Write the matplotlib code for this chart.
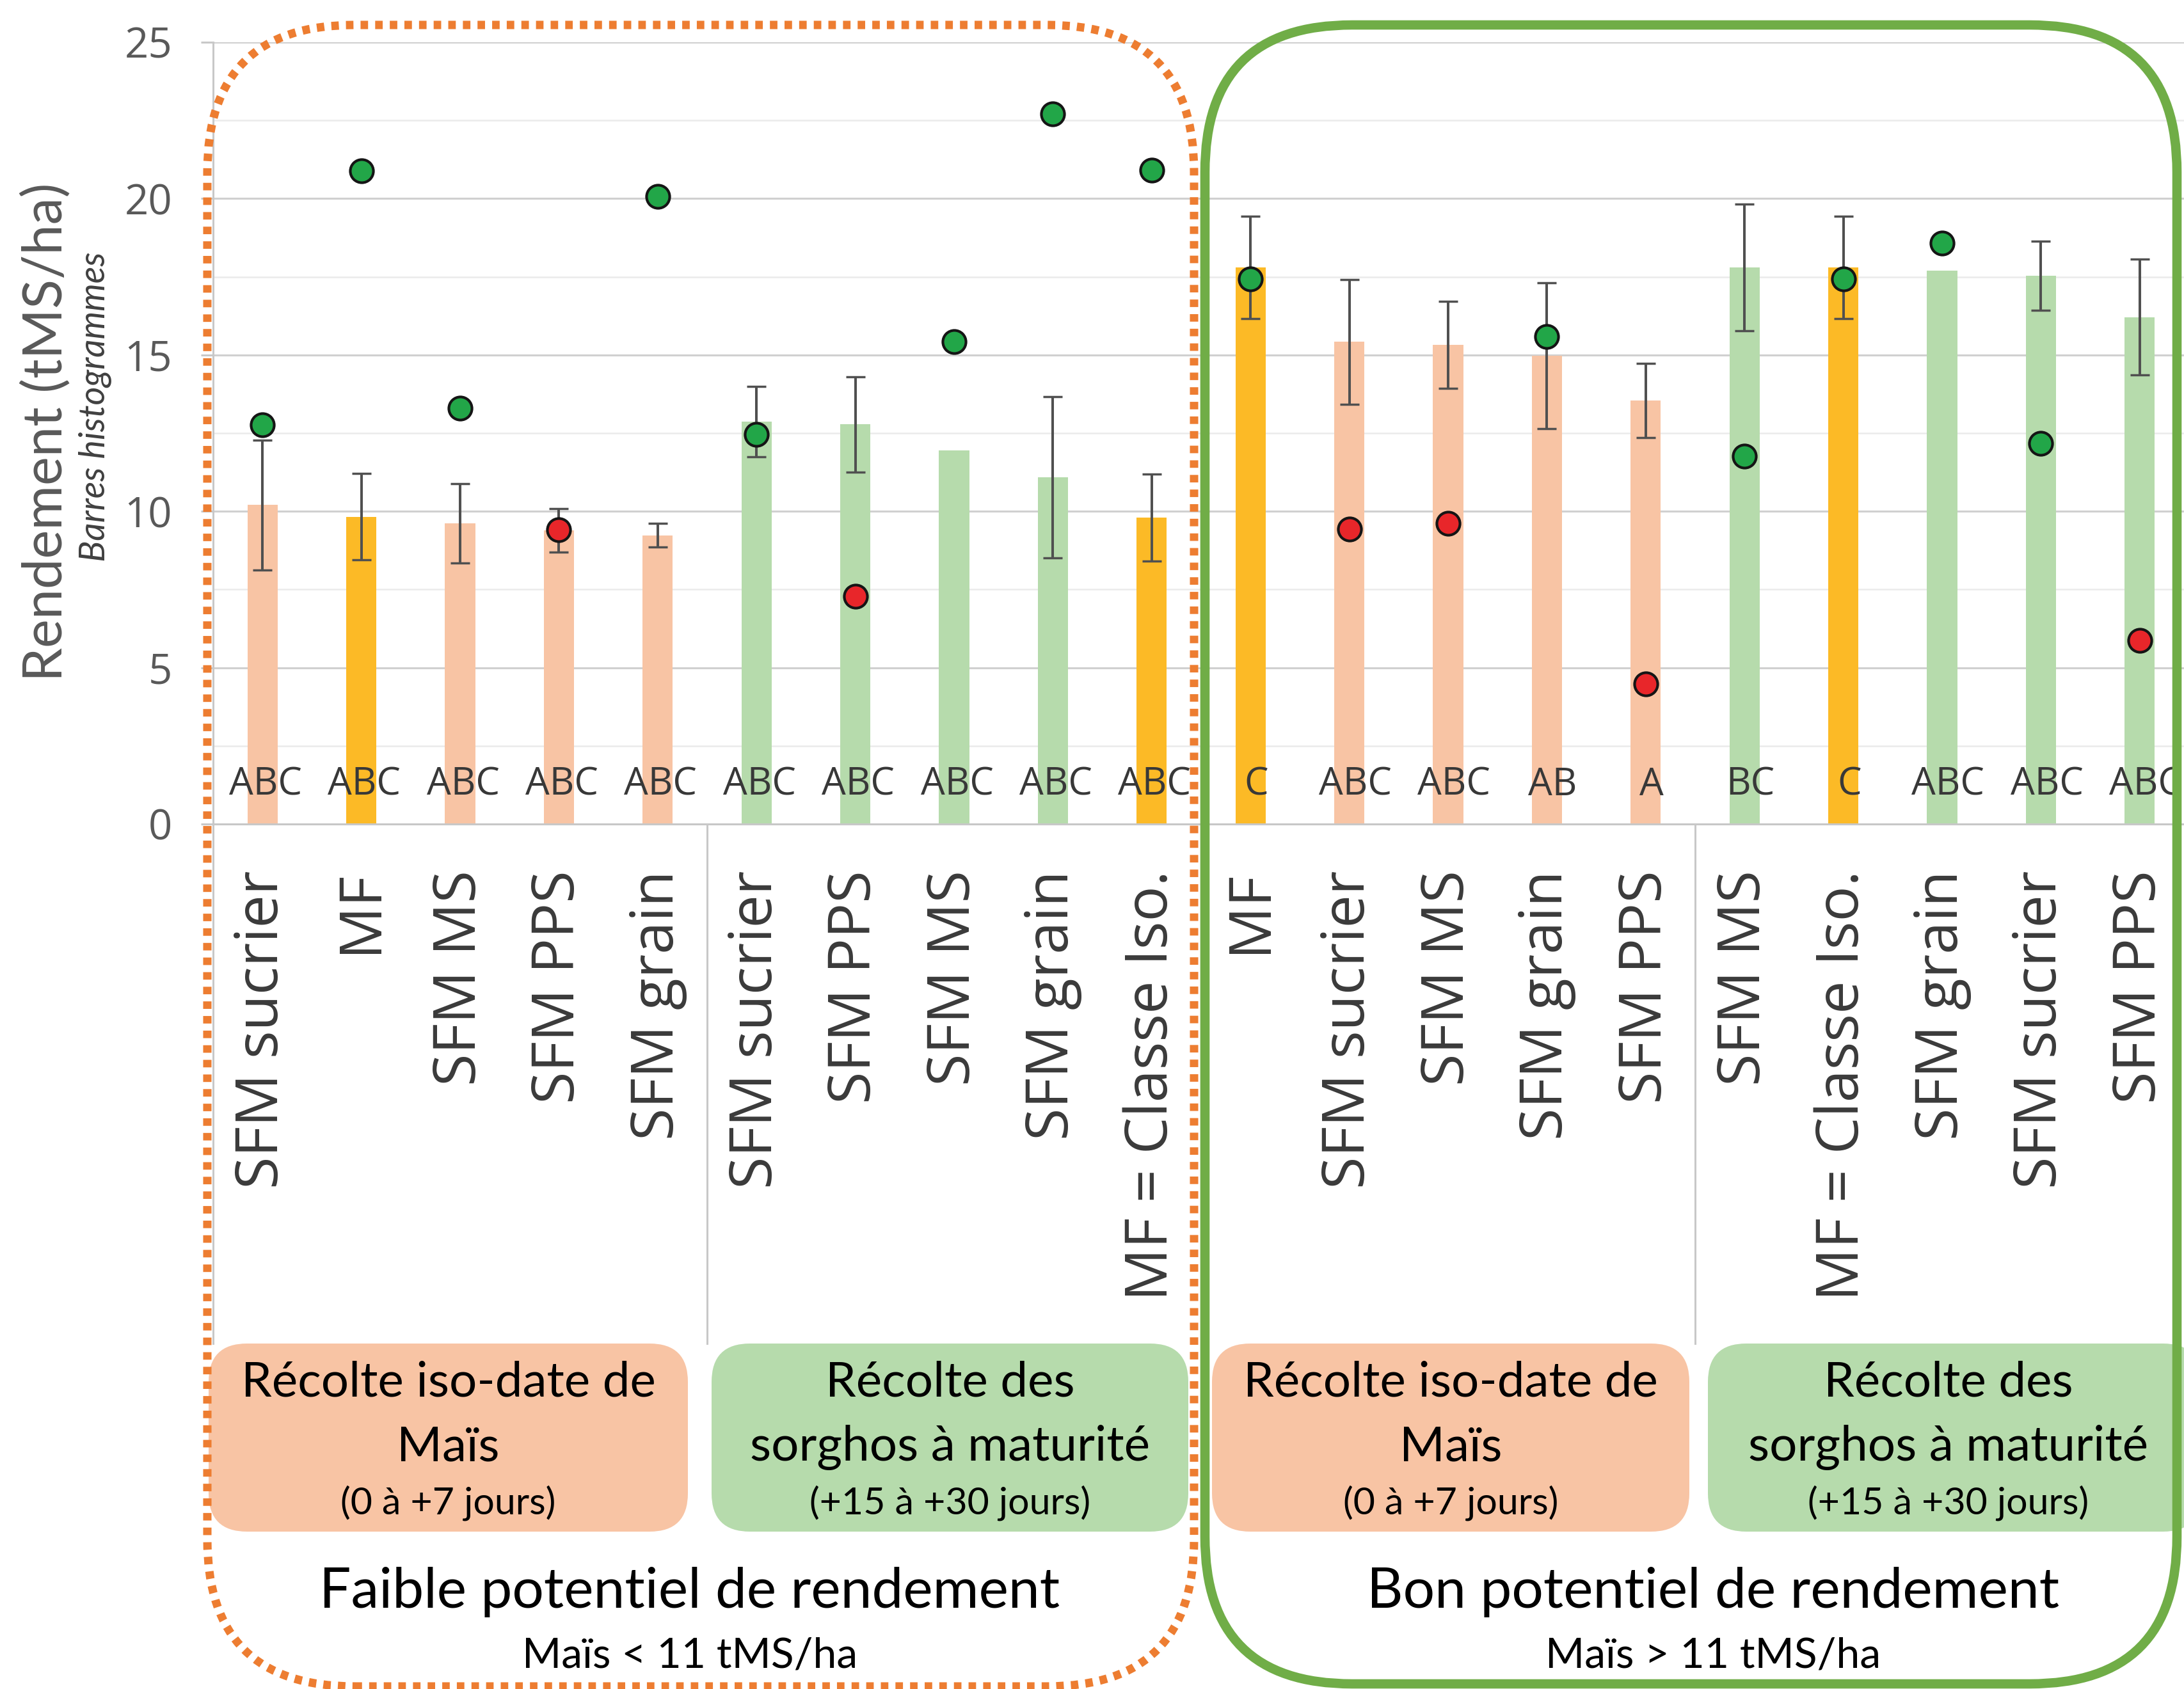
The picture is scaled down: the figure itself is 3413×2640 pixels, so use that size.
import numpy as np
import matplotlib.pyplot as plt
from matplotlib.patches import FancyBboxPatch
from matplotlib.lines import Line2D
from matplotlib.transforms import blended_transform_factory

# Données : rendement moyen (barres), écart-type, valeur individuelle (points)
categories = ["SFM sucrier", "MF", "SFM MS", "SFM PPS", "SFM grain",
              "SFM sucrier", "SFM PPS", "SFM MS", "SFM grain", "MF = Classe Iso.",
              "MF", "SFM sucrier", "SFM MS", "SFM grain", "SFM PPS",
              "SFM MS", "MF = Classe Iso.", "SFM grain", "SFM sucrier", "SFM PPS"]
# iso = récolte iso-date du maïs, mat = sorghos à maturité, ref = maïs témoin
type_recolte = ["iso", "ref", "iso", "iso", "iso",
                "mat", "mat", "mat", "mat", "ref",
                "ref", "iso", "iso", "iso", "iso",
                "mat", "ref", "mat", "mat", "mat"]
rendement = [10.2, 9.83, 9.62, 9.39, 9.23, 12.87, 12.78, 11.95, 11.09, 9.8,
             17.8, 15.42, 15.33, 14.98, 13.54, 17.8, 17.8, 17.7, 17.53, 16.21]
ecart_type = [2.08, 1.38, 1.27, 0.7, 0.38, 1.12, 1.53, np.nan, 2.58, 1.39,
              1.63, 2.0, 1.39, 2.33, 1.19, 2.02, 1.63, np.nan, 1.1, 1.85]
points = [12.76, 20.89, 13.29, 9.41, 20.06, 12.45, 7.28, 15.42, 22.71, 20.9,
          17.44, 9.44, 9.62, 15.59, 4.48, 11.76, 17.44, 18.58, 12.17, 5.87]
points_ok = [1, 1, 1, 0, 1, 1, 0, 1, 1, 1,
             1, 0, 0, 1, 0, 1, 1, 1, 1, 0]
lettres = ["ABC", "ABC", "ABC", "ABC", "ABC", "ABC", "ABC", "ABC", "ABC", "ABC",
           "C", "ABC", "ABC", "AB", "A", "BC", "C", "ABC", "ABC", "ABC"]

groupes = [("Récolte iso-date de", "Maïs", "(0 à +7 jours)"),
           ("Récolte des", "sorghos à maturité", "(+15 à +30 jours)")] * 2
potentiels = [("Faible potentiel de rendement", "Maïs < 11 tMS/ha"),
              ("Bon potentiel de rendement", "Maïs > 11 tMS/ha")]

W, H, DPI = 3413, 2640, 100
couleurs = {"iso": "#F8C4A4", "mat": "#B6DBAC", "ref": "#FCBA26"}
GRIS = "#C8C8C8"

fig = plt.figure(figsize=(W / DPI, H / DPI), dpi=DPI, facecolor="white")
ax = fig.add_axes([333 / W, 1 - 1288 / H, 20 * 154.4 / W, (1288 - 66) / H])

x = np.arange(len(categories))
ax.bar(x, rendement, width=0.305, color=[couleurs[t] for t in type_recolte], zorder=2)

err = np.array(ecart_type)
ok = ~np.isnan(err)
ax.errorbar(x[ok], np.array(rendement)[ok], yerr=err[ok], fmt="none",
            ecolor="#505050", elinewidth=2.9, capsize=10.8, capthick=2.5, zorder=3)

pts = np.array(points)
vert = np.array(points_ok) == 1
ax.plot(x[vert], pts[vert], "o", ms=26, mfc="#22A648", mec="#151515", mew=3, ls="none", zorder=4)
ax.plot(x[~vert], pts[~vert], "o", ms=26, mfc="#E8262A", mec="#151515", mew=3, ls="none", zorder=4)

for i, l in enumerate(lettres):
    dx = 0.06 if i >= 10 else 0.03
    ax.text(i + dx, 1.25, l, ha="center", va="center", fontsize=43,
            family="Open Sans", color="#383838", zorder=5)

ax.set_xlim(-0.5, 19.5)
ax.set_ylim(0, 25)
ax.set_yticks(np.arange(0, 26, 5))
ax.set_yticks(np.arange(2.5, 25, 5), minor=True)
ax.grid(which="major", axis="y", color="#D0D0D0", lw=2.2, zorder=0)
ax.grid(which="minor", axis="y", color="#EBEBEB", lw=1.8, zorder=0)
ax.set_axisbelow(True)
for s in ["top", "right"]:
    ax.spines[s].set_visible(False)
ax.spines["bottom"].set_color(GRIS)
ax.spines["bottom"].set_linewidth(2.2)
ax.spines["left"].set_visible(False)

ax.tick_params(axis="y", which="major", length=14, width=2.2, color=GRIS,
               labelsize=47, labelcolor="#595959", pad=32)
ax.tick_params(axis="y", which="minor", length=0)
for t in ax.get_yticklabels():
    t.set_family("Open Sans")
ax.set_xticks(x, categories, rotation=90, fontsize=66, family="Open Sans", color="#3A3A3A")
ax.tick_params(axis="x", length=0, pad=52)

# séparateurs verticaux de l'axe des catégories
tr = blended_transform_factory(ax.transData, fig.transFigure)
for xs, y_haut in [(-0.5, 66), (4.5, 1288), (14.5, 1288)]:
    fig.add_artist(Line2D([xs, xs], [1 - y_haut / H, 1 - 2100 / H], transform=tr,
                          color=GRIS, lw=2.2, zorder=0.5))


def boite(x0, y0, x1, y1, r, **kw):
    # coordonnées en pixels depuis le coin haut-gauche
    p = FancyBboxPatch((x0 / DPI, (H - y1) / DPI), (x1 - x0) / DPI, (y1 - y0) / DPI,
                       boxstyle=f"round,pad=0,rounding_size={r / DPI}",
                       transform=fig.dpi_scale_trans, **kw)
    fig.add_artist(p)


def texte(xc, yc, s, taille, couleur="black", **kw):
    fig.text(xc / W, 1 - yc / H, s, ha="center", va="center", fontsize=taille,
             family="Lato", color=couleur, **kw)


# étiquettes de second niveau (type de récolte)
cadres = [(326, 1075), (1112, 1857), (1894, 2640), (2669, 3440)]
for (x0, x1), (l1, l2, l3), c in zip(cadres, groupes, ["iso", "mat", "iso", "mat"]):
    boite(x0, 2100, x1, 2394, 60, facecolor=couleurs[c], edgecolor="none", zorder=2)
    xc = (x0 + x1) / 2 if x1 < W else 3045
    texte(xc, 2161, l1, 55)
    texte(xc, 2262, l2, 55)
    texte(xc, 2349, l3, 42.5)

# potentiel de rendement
for xc, (titre, sous_titre) in zip([1078, 2677], potentiels):
    texte(xc, 2488, titre, 63)
    texte(xc, 2588, sous_titre, 47.5)

boite(1883, 39, 3402, 2632, 230, facecolor="none", edgecolor="#70AD47", lw=10.5, zorder=3)
boite(324, 39, 1866, 2636, 230, facecolor="none", edgecolor="#ED7D31", lw=9.4,
      linestyle=(0, (0.9, 0.85)), capstyle="butt", zorder=4)

# titre de l'axe
texte(72, 675, "Rendement (tMS/ha)", 61, couleur="#595959", rotation=90)
fig.text(148 / W, 1 - 636 / H, "Barres histogrammes", rotation=90, ha="center", va="center",
         fontsize=40, family="Lato", style="italic", color="#404040")

fig.savefig("out.png", dpi=DPI, facecolor="white")
